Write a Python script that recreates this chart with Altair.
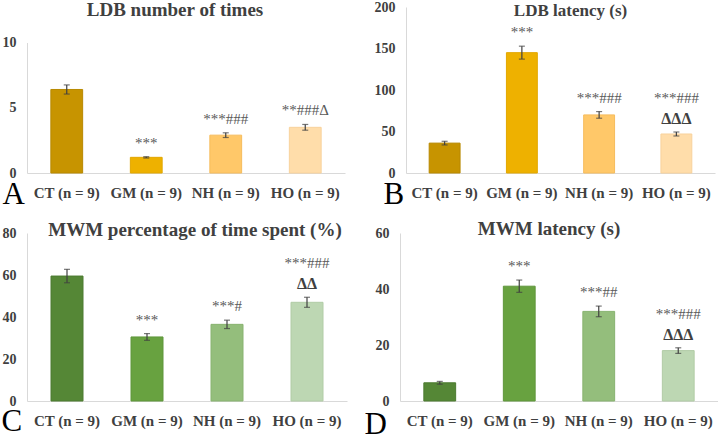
import altair as alt
import pandas as pd

# Treatment groups shown on every panel
groups = ["CT (n = 9)", "GM (n = 9)", "NH (n = 9)", "HO (n = 9)"]

# A: light/dark box, number of transitions
ldb_times = [6.4, 1.2, 2.9, 3.5]
ldb_times_err = [0.35, 0.05, 0.18, 0.22]
ldb_times_sig = ["", "***", "***###", "**###Δ"]
ldb_times_delta = ["", "", "", ""]

# B: light/dark box latency (s)
ldb_latency = [36, 145, 70, 47]
ldb_latency_err = [2.2, 7.8, 4.0, 2.4]
ldb_latency_sig = ["", "***", "***###", "***###"]
ldb_latency_delta = ["", "", "", "ΔΔΔ"]

# C: Morris water maze, % time in target quadrant
mwm_pct = [59.5, 30.5, 36.5, 47.0]
mwm_pct_err = [3.2, 1.6, 2.0, 2.4]
mwm_pct_sig = ["", "***", "***#", "***###"]
mwm_pct_delta = ["", "", "", "ΔΔ"]

# D: Morris water maze latency (s)
mwm_latency = [6.5, 41.0, 32.0, 18.0]
mwm_latency_err = [0.5, 2.2, 1.9, 1.0]
mwm_latency_sig = ["", "***", "***##", "***###"]
mwm_latency_delta = ["", "", "", "ΔΔΔ"]

gold_fill = ["#C79400", "#EEB100", "#FFC869", "#FFDDAA"]
gold_edge = ["#B88900", "#E2A700", "#F6BC5C", "#F8D29C"]
green_fill = ["#558736", "#68A240", "#94BE7C", "#BDD7B3"]
green_edge = ["#4C7B30", "#5F963A", "#88B370", "#B1CCA6"]

SERIF = "Liberation Serif"
INK = "#404040"


def panel(values, errs, sig, delta, fills, edges, title, title_size, letter,
          yscale, ticks, width, height, extent, title_dx, title_offset,
          letter_x, letter_y):
    df = pd.DataFrame({"group": groups, "value": values, "err": errs,
                       "sig": sig, "delta": delta})
    base = alt.Chart(df).transform_calculate(
        lo="datum.value - datum.err",
        hi="datum.value + datum.err",
    )
    x = alt.X(
        "group:N", sort=groups,
        scale=alt.Scale(paddingInner=0, paddingOuter=0),
        axis=alt.Axis(
            title=letter, labelAngle=0, labelFontSize=15, labelPadding=12,
            labelFontWeight="bold",
            titleFont=SERIF, titleFontWeight="normal", titleFontSize=31,
            titleColor="#000000", titleAlign="left", titleBaseline="alphabetic",
            titleX=letter_x, titleY=letter_y,
        ),
    )
    xs = alt.X("group:N", sort=groups)
    y = alt.Y("value:Q", scale=yscale, title=None,
              axis=alt.Axis(values=ticks, minExtent=extent, maxExtent=extent,
                            labelPadding=11, labelFontWeight="bold"))

    bars = base.mark_bar(width=alt.RelativeBandSize(0.4), strokeWidth=1).encode(
        x=x, y=y,
        fill=alt.Fill("group:N", sort=groups, legend=None,
                      scale=alt.Scale(domain=groups, range=fills)),
        stroke=alt.Stroke("group:N", sort=groups, legend=None,
                          scale=alt.Scale(domain=groups, range=edges)),
    )
    whisker = base.mark_rule(color=INK, strokeWidth=1.2).encode(
        x=xs, y="lo:Q", y2="hi:Q")
    cap_lo = base.mark_tick(color=INK, size=6, thickness=1.2).encode(x=xs, y="lo:Q")
    cap_hi = base.mark_tick(color=INK, size=6, thickness=1.2).encode(x=xs, y="hi:Q")

    star_style = dict(font=SERIF, fontSize=15, color="#595959", baseline="bottom")
    # significance marks sit just above the whisker, or one line higher
    # when a second line of delta symbols sits underneath them
    stars_low = base.transform_filter("datum.delta == ''").mark_text(
        dy=-6, **star_style).encode(x=xs, y="hi:Q", text="sig:N")
    stars_high = base.transform_filter("datum.delta != ''").mark_text(
        dy=-26, **star_style).encode(x=xs, y="hi:Q", text="sig:N")
    deltas = base.transform_filter("datum.delta != ''").mark_text(
        font=SERIF, fontSize=16, fontWeight="bold", color=INK,
        baseline="bottom", dy=-5,
    ).encode(x=xs, y="hi:Q", text="delta:N")

    return alt.layer(bars, whisker, cap_lo, cap_hi, stars_low, stars_high,
                     deltas).properties(
        width=width, height=height,
        title=alt.TitleParams(
            title, font=SERIF, fontSize=title_size, fontWeight="bold", color=INK,
            anchor="middle", frame="group", baseline="middle",
            dx=title_dx, offset=title_offset,
        ),
    )


pA = panel(ldb_times, ldb_times_err, ldb_times_sig, ldb_times_delta,
           gold_fill, gold_edge, "LDB number of times", 19, "A",
           alt.Scale(domain=[0, 10], range=[166, 35.5], nice=False), [0, 5, 10],
           318, 166, 27, -11, -22, -25, 30)
pB = panel(ldb_latency, ldb_latency_err, ldb_latency_sig, ldb_latency_delta,
           gold_fill, gold_edge, "LDB latency (s)", 17, "B",
           alt.Scale(domain=[0, 200], nice=False), [0, 50, 100, 150, 200],
           309, 166, 46, 10, -28, -23, 30)
pC = panel(mwm_pct, mwm_pct_err, mwm_pct_sig, mwm_pct_delta,
           green_fill, green_edge, "MWM percentage of time spent (%)", 19, "C",
           alt.Scale(domain=[0, 80], nice=False), [0, 20, 40, 60, 80],
           320, 168, 27, 8, -23, -26, 29)
pD = panel(mwm_latency, mwm_latency_err, mwm_latency_sig, mwm_latency_delta,
           green_fill, green_edge, "MWM latency (s)", 19, "D",
           alt.Scale(domain=[0, 60], nice=False), [0, 20, 40, 60],
           318, 168, 40, -10, -22, -36, 32)

row1 = alt.hconcat(pA, pB, spacing=15).resolve_scale(fill="independent", stroke="independent")
row2 = alt.hconcat(pC, pD, spacing=13).resolve_scale(fill="independent", stroke="independent")

chart = (
    alt.vconcat(row1, row2, spacing=11)
    .resolve_scale(fill="independent", stroke="independent")
    .properties(padding=0, background="white")
    .configure_view(stroke=None)
    .configure_axis(
        grid=False, ticks=False, labelFont=SERIF, labelFontWeight="bold",
        labelFontSize=14, labelColor=INK, domainColor="#D9D9D9", domainWidth=1,
    )
)

chart.save("out.html", embed_options={"renderer": "svg", "actions": False})
